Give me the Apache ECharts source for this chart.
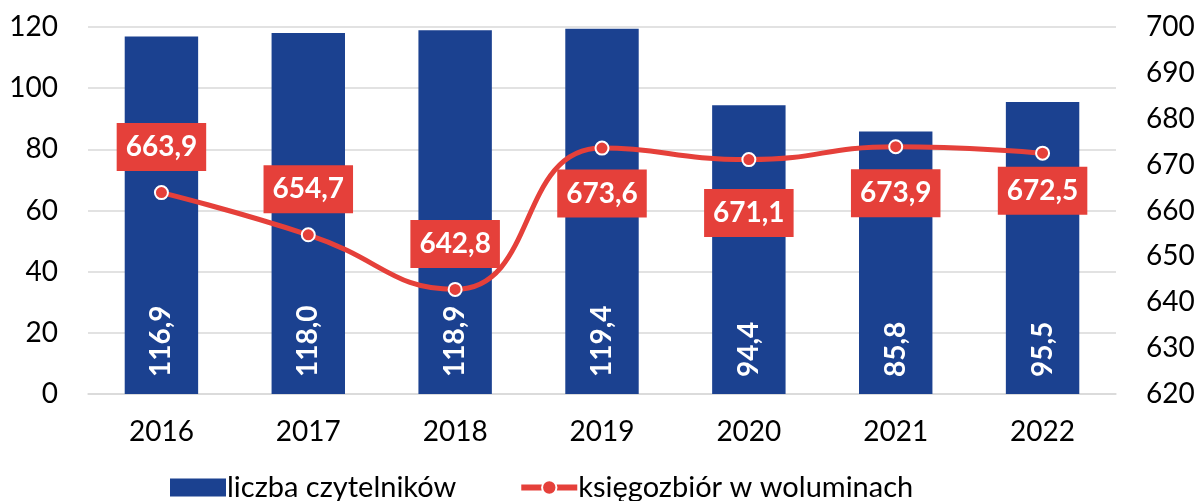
<!DOCTYPE html>
<html>
<head>
<meta charset="utf-8">
<script src="https://cdn.jsdelivr.net/npm/echarts@6/dist/echarts.min.js"></script>
<style>
  html, body { margin: 0; padding: 0; background: #fff; }
  #chart { width: 1199px; height: 501px; }
</style>
</head>
<body>
<div id="chart"></div>
<script>
// dane
const years = ['2016', '2017', '2018', '2019', '2020', '2021', '2022']
const czytelnicy = [116.9, 118.0, 118.9, 119.4, 94.4, 85.8, 95.5]
const ksiegozbior = [663.9, 654.7, 642.8, 673.6, 671.1, 673.9, 672.5]
const leftTicks = [0, 20, 40, 60, 80, 100, 120]
const rightTicks = [620, 630, 640, 650, 660, 670, 680, 690, 700]

// gdzie stoi etykieta linii (nad / pod punktem) i w jakiej odleglosci
const lineLabelPos = ['top', 'top', 'top', 'bottom', 'bottom', 'bottom', 'bottom']
const lineLabelDist = [14, 14, 14, 14, 22, 15, 6]

const BLUE = '#1b4190'
const RED = '#e5403a'
const FONT = 'Lato'

const fmt = v => v.toFixed(1).replace('.', ',')

const chart = echarts.init(document.getElementById('chart'))

const option = {
  animation: false,
  textStyle: { fontFamily: FONT },
  grid: { left: 88, right: 83, top: 27, bottom: 107 },
  legend: {
    left: 165,
    top: 468,
    itemGap: 62,
    textStyle: { fontSize: 29, color: '#000', fontFamily: FONT, padding: [0, 0, 0, -4] },
    data: [
      { name: 'liczba czytelników', icon: 'rect', itemStyle: { color: BLUE } },
      { name: 'księgozbiór w woluminach', lineStyle: { width: 6, color: RED } }
    ],
    itemWidth: 56,
    itemHeight: 18
  },
  xAxis: {
    type: 'category',
    data: years,
    axisLine: { lineStyle: { color: '#d9d9d9', width: 1.5 } },
    axisTick: { show: false },
    axisLabel: { fontSize: 28, color: '#000', margin: 24, fontFamily: FONT }
  },
  yAxis: [
    {
      type: 'value',
      min: leftTicks[0],
      max: leftTicks[leftTicks.length - 1],
      interval: 20,
      axisLine: { show: false },
      axisTick: { show: false },
      splitLine: { lineStyle: { color: '#d9d9d9', width: 1.5 } },
      axisLabel: { fontSize: 28, color: '#000', margin: 30, fontFamily: FONT }
    },
    {
      type: 'value',
      min: rightTicks[0],
      max: rightTicks[rightTicks.length - 1],
      interval: 10,
      axisLine: { show: false },
      axisTick: { show: false },
      splitLine: { show: false },
      axisLabel: { fontSize: 28, color: '#000', margin: 30, fontFamily: FONT }
    }
  ],
  series: [
    {
      name: 'liczba czytelników',
      type: 'bar',
      yAxisIndex: 0,
      data: czytelnicy,
      barWidth: '50%',
      itemStyle: { color: BLUE },
      label: {
        show: true,
        position: 'insideBottom',
        rotate: 90,
        align: 'left',
        verticalAlign: 'middle',
        distance: 17,
        color: '#fff',
        fontWeight: 'bold',
        fontSize: 28,
        fontFamily: FONT,
        formatter: p => fmt(p.value)
      }
    },
    {
      name: 'księgozbiór w woluminach',
      type: 'line',
      yAxisIndex: 1,
      smooth: 0.5,
      z: 5,
      data: ksiegozbior.map((v, i) => ({
        value: v,
        label: { position: lineLabelPos[i], distance: lineLabelDist[i] }
      })),
      symbol: 'circle',
      symbolSize: 13,
      lineStyle: { color: RED, width: 5 },
      itemStyle: { color: RED, borderColor: '#fff', borderWidth: 2 },
      label: {
        show: true,
        color: '#fff',
        backgroundColor: RED,
        fontWeight: 'bold',
        fontSize: 28,
        fontFamily: FONT,
        lineHeight: 34,
        padding: [7, 9],
        formatter: p => fmt(p.value)
      }
    }
  ]
}

chart.setOption(option)
</script>
</body>
</html>
